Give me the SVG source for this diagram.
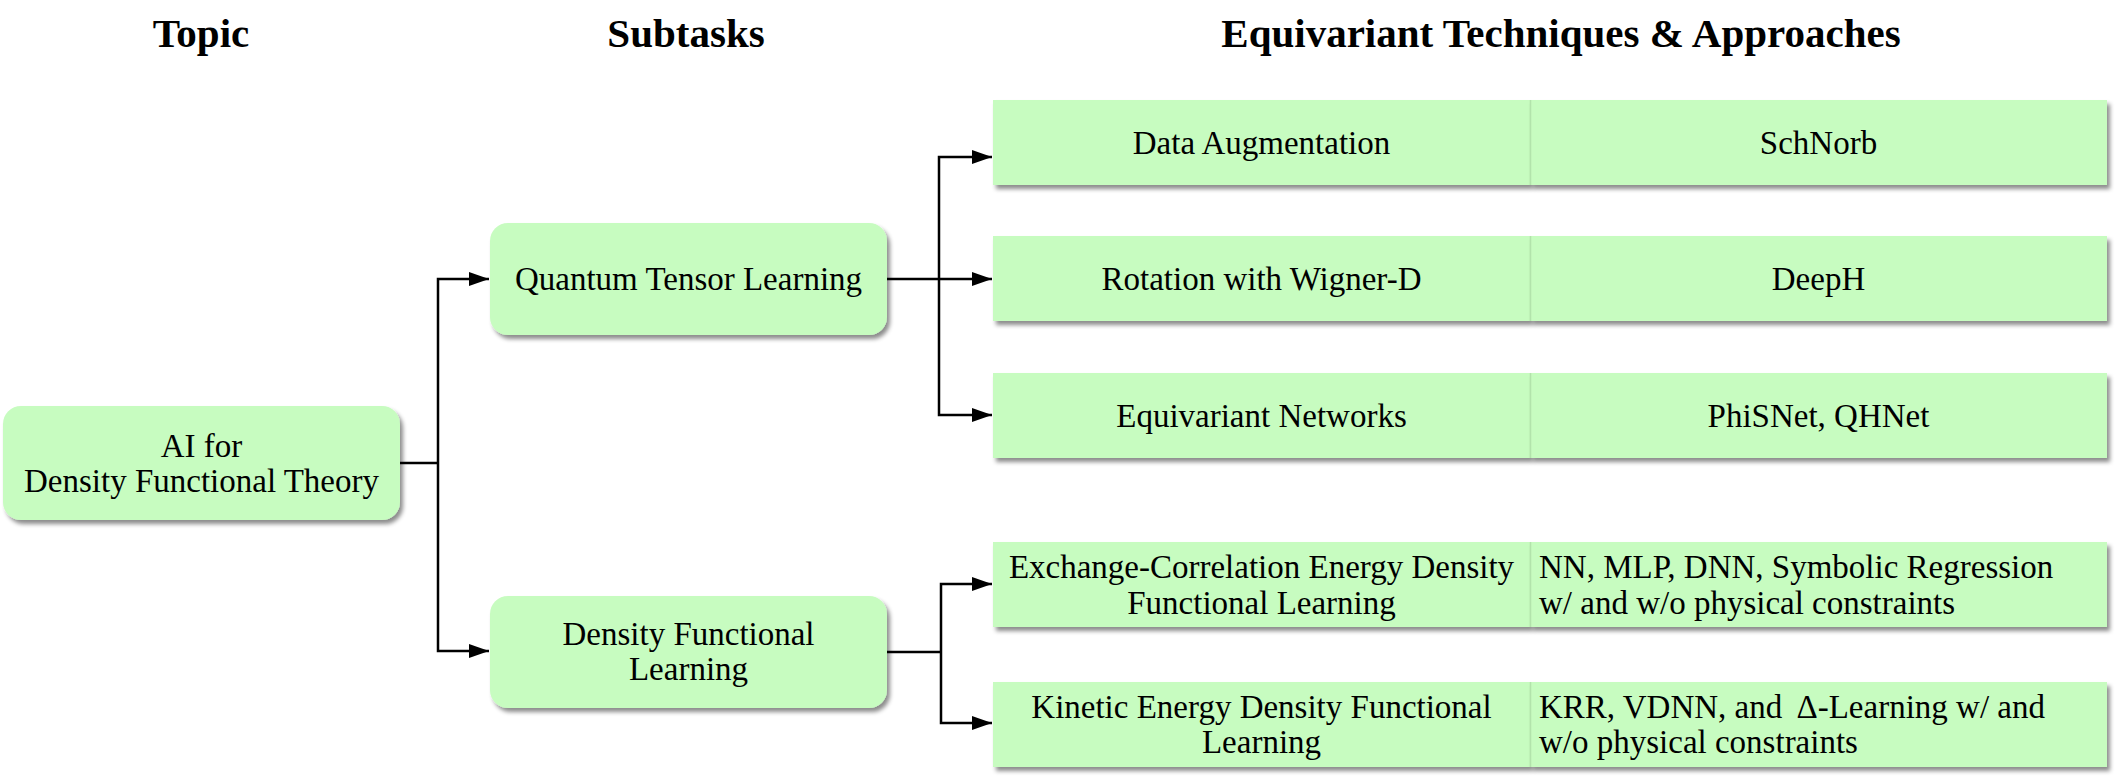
<svg xmlns="http://www.w3.org/2000/svg" width="2118" height="777" viewBox="0 0 2118 777">
<defs>
<filter id="sh" x="-5%" y="-10%" width="115%" height="130%">
<feDropShadow dx="3" dy="4" stdDeviation="2.2" flood-color="#000" flood-opacity="0.45"/>
</filter>
<marker id="arr" markerUnits="userSpaceOnUse" markerWidth="22" markerHeight="16" refX="20" refY="7" orient="auto">
<path d="M0,0 L20,7 L0,14 z" fill="#000"/>
</marker>
</defs>
<style>
.hd{font-family:"Liberation Serif","Times New Roman",serif;font-weight:bold;font-size:41px;fill:#000;text-anchor:middle}
.t{font-family:"Liberation Serif","Times New Roman",serif;font-size:33px;fill:#000}
.c{text-anchor:middle}
.box{fill:#c7fcc0;filter:url(#sh)}
.div{stroke:#b2e3ab;stroke-width:1.5}
.ln{fill:none;stroke:#000;stroke-width:2.5}
.ar{fill:none;stroke:#000;stroke-width:2.5;marker-end:url(#arr)}
</style>
<rect width="2118" height="777" fill="#fff"/>
<g id="headers">
<text class="hd" x="201" y="47">Topic</text>
<text class="hd" x="686" y="47">Subtasks</text>
<text class="hd" x="1561" y="47">Equivariant Techniques &amp; Approaches</text>
</g>
<g id="connectors">
<path class="ln" d="M400,463 H438"/>
<path class="ar" d="M438,463 V279 H489"/>
<path class="ar" d="M438,463 V651 H489"/>
<path class="ln" d="M887,279 H939"/>
<path class="ar" d="M939,279 V157 H992"/>
<path class="ar" d="M939,279 H992"/>
<path class="ar" d="M939,279 V415 H992"/>
<path class="ln" d="M887,652 H941"/>
<path class="ar" d="M941,652 V584 H992"/>
<path class="ar" d="M941,652 V723 H992"/>
</g>
<g id="topic">
<rect class="box" x="3" y="406" width="397" height="114" rx="18"/>
<text class="t c" x="201.5" y="457">AI for</text>
<text class="t c" x="201.5" y="492">Density Functional Theory</text>
</g>
<g id="qtl">
<rect class="box" x="490" y="223" width="397" height="112" rx="18"/>
<text class="t c" x="688.5" y="290">Quantum Tensor Learning</text>
</g>
<g id="dfl">
<rect class="box" x="490" y="596" width="397" height="112" rx="18"/>
<text class="t c" x="688.5" y="645">Density Functional</text>
<text class="t c" x="688.5" y="680">Learning</text>
</g>
<g id="row1">
<rect class="box" x="993" y="100" width="537" height="85"/>
<rect class="box" x="1530" y="100" width="577" height="85"/>
<line class="div" x1="1530.5" y1="100" x2="1530.5" y2="185"/>
<text class="t c" x="1261.5" y="154">Data Augmentation</text>
<text class="t c" x="1818.5" y="154">SchNorb</text>
</g>
<g id="row2">
<rect class="box" x="993" y="236" width="537" height="85"/>
<rect class="box" x="1530" y="236" width="577" height="85"/>
<line class="div" x1="1530.5" y1="236" x2="1530.5" y2="321"/>
<text class="t c" x="1261.5" y="290">Rotation with Wigner-D</text>
<text class="t c" x="1818.5" y="290">DeepH</text>
</g>
<g id="row3">
<rect class="box" x="993" y="373" width="537" height="85"/>
<rect class="box" x="1530" y="373" width="577" height="85"/>
<line class="div" x1="1530.5" y1="373" x2="1530.5" y2="458"/>
<text class="t c" x="1261.5" y="427">Equivariant Networks</text>
<text class="t c" x="1818.5" y="427">PhiSNet, QHNet</text>
</g>
<g id="row4">
<rect class="box" x="993" y="542" width="537" height="85"/>
<rect class="box" x="1530" y="542" width="577" height="85"/>
<line class="div" x1="1530.5" y1="542" x2="1530.5" y2="627"/>
<text class="t c" x="1261.5" y="578">Exchange-Correlation Energy Density</text>
<text class="t c" x="1261.5" y="614">Functional Learning</text>
<text class="t" x="1539" y="578">NN, MLP, DNN, Symbolic Regression</text>
<text class="t" x="1539" y="614">w/ and w/o physical constraints</text>
</g>
<g id="row5">
<rect class="box" x="993" y="682" width="537" height="85"/>
<rect class="box" x="1530" y="682" width="577" height="85"/>
<line class="div" x1="1530.5" y1="682" x2="1530.5" y2="767"/>
<text class="t c" x="1261.5" y="718">Kinetic Energy Density Functional</text>
<text class="t c" x="1261.5" y="753">Learning</text>
<text class="t" x="1539" y="718">KRR, VDNN, and <tspan dx="6">Δ-Learning w/ and</tspan></text>
<text class="t" x="1539" y="753">w/o physical constraints</text>
</g>
</svg>
